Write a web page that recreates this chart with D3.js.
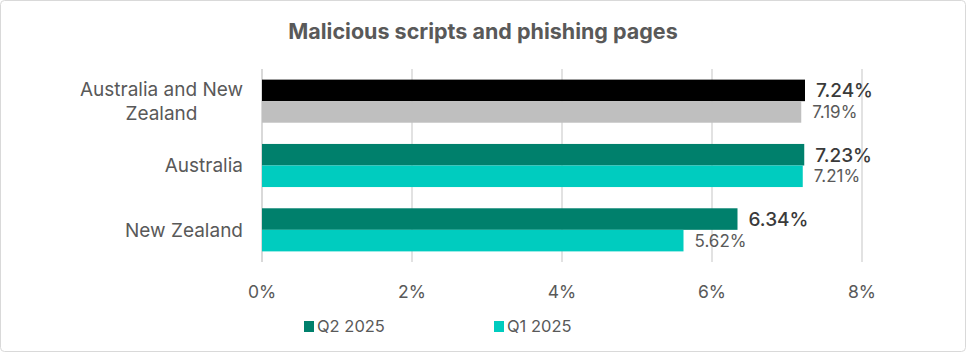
<!DOCTYPE html>
<html>
<head>
<meta charset="utf-8">
<script src="https://cdn.jsdelivr.net/npm/d3@7"></script>
<style>
  body { margin: 0; background: #fff; }
  text { font-family: Inter, "Noto Sans", sans-serif; fill: #595959; }
</style>
</head>
<body>
<div id="chart"></div>
<script>
var categories = ["Australia and New Zealand", "Australia", "New Zealand"];
var categoryLines = [["Australia and New", "Zealand"], ["Australia"], ["New Zealand"]];
var seriesNames = ["Q2 2025", "Q1 2025"];
var q2Values = [7.24, 7.23, 6.34];
var q1Values = [7.19, 7.21, 5.62];
var xTicks = [0, 2, 4, 6, 8];

var w = 966;
var h = 352;
var plotLeft = 262, plotRight = 862, plotTop = 69, plotBottom = 262;

// colour per category: first one is the region total
var q2Colors = ["#000000", "#00806c", "#00806c"];
var q1Colors = ["#bfbfbf", "#00ccbf", "#00ccbf"];

var data = categories.map(function(c, i) {
    return { cat: c, lines: categoryLines[i], q2: q2Values[i], q1: q1Values[i], i: i };
});

var svg = d3.select("#chart")
    .append("svg")
    .attr("width", w)
    .attr("height", h);

svg.append("rect")
    .attr("x", 0.5).attr("y", 0.5)
    .attr("width", w - 1).attr("height", h - 1)
    .attr("rx", 4)
    .attr("fill", "#fff")
    .attr("stroke", "#d9d9d9");

svg.append("text")
    .attr("x", 483)
    .attr("y", 39)
    .attr("text-anchor", "middle")
    .style("font-size", "21.5px")
    .style("font-weight", "bold")
    .text("Malicious scripts and phishing pages");

var xScale = d3.scaleLinear().domain([0, 8]).range([plotLeft, plotRight]);

var yScale = d3.scaleBand()
    .domain(categories)
    .range([plotTop, plotBottom])
    .paddingInner(0.33)
    .paddingOuter(0.165);

var sub = d3.scaleBand()
    .domain(seriesNames)
    .range([0, yScale.bandwidth()]);

// gridlines
svg.append("g")
    .selectAll("line")
    .data(xTicks)
    .enter()
    .append("line")
    .attr("x1", function(d) { return xScale(d); })
    .attr("x2", function(d) { return xScale(d); })
    .attr("y1", plotTop)
    .attr("y2", plotBottom)
    .attr("stroke", "#d9d9d9")
    .attr("stroke-width", function(d) { return d === 0 ? 2 : 1.5; });

// x tick labels
svg.append("g")
    .selectAll("text")
    .data(xTicks)
    .enter()
    .append("text")
    .attr("x", function(d) { return xScale(d); })
    .attr("y", 298)
    .attr("text-anchor", "middle")
    .style("font-size", "17.5px")
    .text(function(d) { return d + "%"; });

var groups = svg.append("g")
    .selectAll("g")
    .data(data)
    .enter()
    .append("g")
    .attr("transform", function(d) { return "translate(0," + yScale(d.cat) + ")"; });

groups.append("rect")
    .attr("x", xScale(0))
    .attr("y", sub("Q2 2025"))
    .attr("width", function(d) { return xScale(d.q2) - xScale(0); })
    .attr("height", sub.bandwidth())
    .attr("fill", function(d) { return q2Colors[d.i]; });

groups.append("rect")
    .attr("x", xScale(0))
    .attr("y", sub("Q1 2025"))
    .attr("width", function(d) { return xScale(d.q1) - xScale(0); })
    .attr("height", sub.bandwidth())
    .attr("fill", function(d) { return q1Colors[d.i]; });

groups.append("text")
    .attr("x", function(d) { return xScale(d.q2) + 11; })
    .attr("y", sub("Q2 2025") + sub.bandwidth() / 2 + 7)
    .style("font-size", "19px")
    .style("font-weight", "500")
    .style("fill", "#3a3a3a")
    .text(function(d) { return d.q2.toFixed(2) + "%"; });

groups.append("text")
    .attr("x", function(d) { return xScale(d.q1) + 11; })
    .attr("y", sub("Q1 2025") + sub.bandwidth() / 2 + 6)
    .style("font-size", "17px")
    .text(function(d) { return d.q1.toFixed(2) + "%"; });

// category labels (wrapped one is centred under its first line)
groups.each(function(d) {
    var g = d3.select(this);
    var y0 = yScale.bandwidth() / 2 + 7 - (d.lines.length - 1) * 12;
    var first = g.append("text")
        .attr("x", 243)
        .attr("y", y0)
        .attr("text-anchor", "end")
        .style("font-size", "19px")
        .text(d.lines[0]);
    var lw = first.node().getComputedTextLength();
    d.lines.slice(1).forEach(function(line, k) {
        g.append("text")
            .attr("x", 243 - lw / 2)
            .attr("y", y0 + 24 * (k + 1))
            .attr("text-anchor", "middle")
            .style("font-size", "19px")
            .text(line);
    });
});

// legend
var legendX = [304, 494];
var legendColors = ["#00806c", "#00ccbf"];
var legend = svg.append("g")
    .selectAll("g")
    .data(seriesNames)
    .enter()
    .append("g")
    .attr("transform", function(d, i) { return "translate(" + legendX[i] + ",321)"; });

legend.append("rect")
    .attr("width", 10)
    .attr("height", 11)
    .attr("fill", function(d, i) { return legendColors[i]; });

legend.append("text")
    .attr("x", 13)
    .attr("y", 11)
    .style("font-size", "16.5px")
    .text(function(d) { return d; });
</script>
</body>
</html>
